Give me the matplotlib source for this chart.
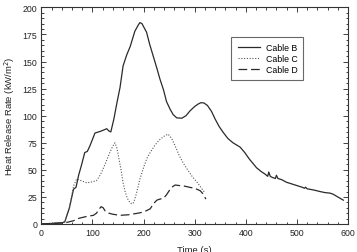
import numpy as np
import matplotlib
matplotlib.use("Agg")
import matplotlib.pyplot as plt
from matplotlib.ticker import MultipleLocator

plt.rcParams['font.family'] = ['Liberation Sans', 'DejaVu Sans']

# Cable B (solid)
t_b = [0, 20, 40, 46, 55, 63, 68, 73, 79, 85, 90, 95, 105, 112, 118, 128, 132, 136, 142,
       148, 154, 160, 167, 174, 183, 190, 193, 197, 206, 212, 219, 226, 232, 239, 245, 252,
       258, 265, 275, 283, 291, 300, 307, 312, 318, 325, 333, 340, 348, 356, 365, 375, 382,
       389, 398, 407, 414, 421, 430, 438, 443, 445, 448, 452, 458, 460, 463, 470, 480, 490,
       500, 510, 515, 517, 520, 532, 545, 555, 565, 571, 580, 591]
v_b = [0, 0.5, 1, 2, 15, 32, 34, 45, 55, 66, 67, 72, 84, 85, 86, 88, 86, 85, 97,
       112, 126, 146, 156, 164, 178, 184, 186, 185, 177, 166, 155, 144, 134, 124, 113, 106,
       101, 98, 97.7, 100, 104.5, 108.5, 110.8, 112, 111.8, 109.5, 104, 97, 90, 84.5, 79, 75, 73,
       71, 66, 60, 56, 52, 48.5, 46, 44, 48, 44, 43, 42, 45, 42, 41, 38.5, 37,
       35.5, 34, 33, 34, 32.5, 31.5, 30, 29, 28.5, 27.5, 25, 22]

# Cable C (dotted)
t_c = [0, 20, 40, 46, 55, 63, 69, 78, 89, 100, 108, 115, 121, 128, 134, 140, 144, 148,
       152, 156, 160, 164, 168, 173, 177, 181, 186, 193, 200, 206, 213, 220, 226, 232, 240,
       248, 255, 262, 270, 278, 285, 295, 305, 312, 317, 320]
v_c = [0, 0.5, 1, 2, 15, 35, 41.5, 40, 38, 39, 40, 45, 51, 59, 66, 72, 75, 70,
       60, 50, 38, 30, 24, 20, 18.4, 20, 28, 41.5, 52, 60, 66, 71, 75, 78, 81,
       83, 79, 72, 63, 56, 51, 44, 38.4, 34, 30.7, 29]

# Cable D (dashed)
t_d = [0, 20, 40, 50, 63, 72, 80, 89, 102, 108, 112, 117, 121, 125, 132, 140, 154, 170,
       187, 200, 213, 220, 226, 232, 239, 245, 252, 257, 262, 270, 280, 291, 300, 311, 316,
       322]
v_d = [0, 0.5, 1, 1.5, 3, 5, 6, 7, 8, 10, 13, 16, 15, 12, 10, 9, 8, 8.5,
       9.8, 11, 14, 19, 22, 23, 23.6, 27, 32, 34.5, 36, 35.5, 35, 33.8, 33, 30.7, 28,
       23]

fig = plt.figure(figsize=(3.57, 2.53), dpi=100)
ax = fig.add_axes([0.1157, 0.1107, 0.859, 0.856])

col = '#2a2a2a'
ax.plot(t_b, v_b, color=col, lw=0.9, ls='-', label='Cable B')
ax.plot(t_c, v_c, color='#555555', lw=0.8, ls=(0, (1, 1.5)), label='Cable C')
ax.plot(t_d, v_d, color=col, lw=0.9, ls=(0, (7, 3)), label='Cable D')

ax.set_xlim(0, 600)
ax.set_ylim(0, 200)
ax.xaxis.set_major_locator(MultipleLocator(100))
ax.xaxis.set_minor_locator(MultipleLocator(20))
ax.yaxis.set_major_locator(MultipleLocator(25))
ax.yaxis.set_minor_locator(MultipleLocator(5))
ax.tick_params(which='both', direction='in', top=True, right=True,
               labelsize=6.3, colors='#222222', width=0.6)
ax.tick_params(which='major', length=3.5, pad=3)
ax.tick_params(which='minor', length=1.8)
for s in ax.spines.values():
    s.set_linewidth(0.8)
    s.set_color('#333333')

ax.set_xlabel('Time (s)', fontsize=6.8, labelpad=6, color='#222222')
ax.set_ylabel('Heat Release Rate (kW/m$^2$)', fontsize=6.8, labelpad=4, color='#222222')

leg = ax.legend(loc='upper left', bbox_to_anchor=(0.62, 0.865), fontsize=6.3,
                frameon=True, fancybox=False, handlelength=2.6, handletextpad=0.6,
                borderpad=0.7, labelspacing=0.25, borderaxespad=0)
leg.get_frame().set_edgecolor('#444444')
leg.get_frame().set_linewidth(0.8)

fig.savefig('out.png', dpi=100)
